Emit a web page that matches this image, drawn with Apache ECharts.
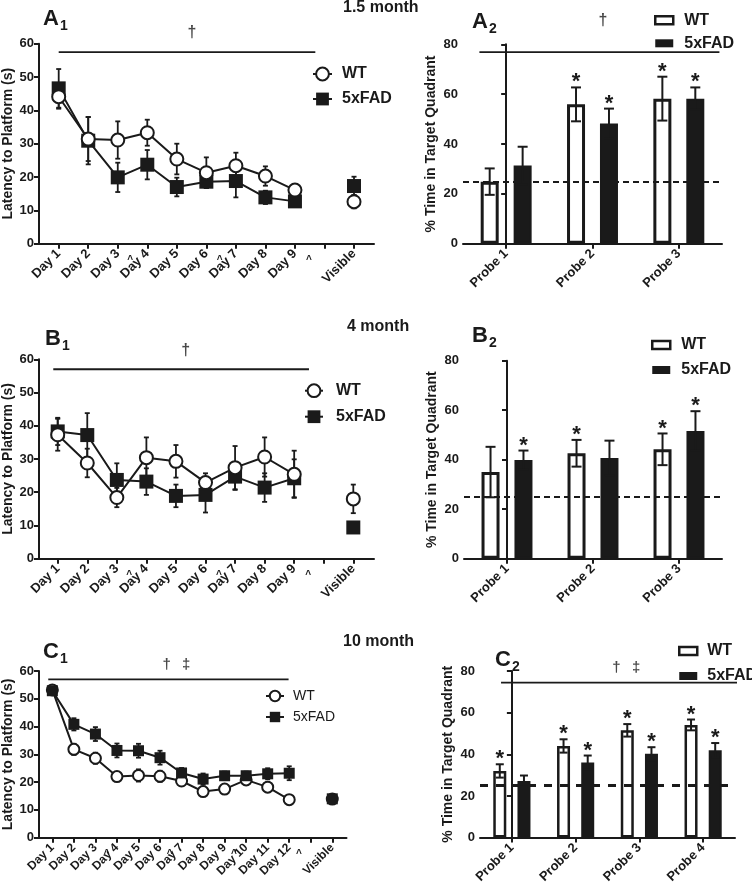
<!DOCTYPE html>
<html><head><meta charset="utf-8">
<script src="https://cdn.jsdelivr.net/npm/echarts@6/dist/echarts.min.js"></script>
<style>html,body{margin:0;padding:0;background:#fff}#c{width:752px;height:886px}</style>
</head><body><div id="c"></div>
<script>
// ---------------- DATA ----------------
const daysAB = ['Day 1','Day 2','Day 3','Day 4','Day 5','Day 6','Day 7','Day 8','Day 9','','Visible'];
const daysC = ['Day 1','Day 2','Day 3','Day 4','Day 5','Day 6','Day 7','Day 8','Day 9','Day 10','Day 11','Day 12','','Visible'];
const probes3 = ['Probe 1','Probe 2','Probe 3'];
const probes4 = ['Probe 1','Probe 2','Probe 3','Probe 4'];

// A1 (1.5 month) latency
const a1WT     = [44.1, 31.4, 31.1, 33.3, 25.4, 21.3, 23.4, 20.3, 16.1, null, 12.6];
const a1WTErr  = [3.6, 6.6, 5.6, 3.9, 4.6, 4.6, 3.9, 2.9, 0.6, null, 2.0];
const a1FAD    = [46.6, 30.9, 19.9, 23.7, 17.0, 18.6, 18.8, 13.9, 12.7, null, 17.3];
const a1FADErr = [5.8, 7.1, 4.4, 4.4, 2.8, 1.9, 4.9, 2.0, 1.0, null, 2.8];
// B1 (4 month) latency
const b1WT     = [37.3, 28.8, 18.4, 30.4, 29.3, 22.9, 27.4, 30.6, 25.4, null, 18.0];
const b1WTErr  = [4.8, 4.3, 2.9, 6.1, 4.9, 2.8, 6.5, 5.9, 7.1, null, 4.3];
const b1FAD    = [38.3, 37.2, 23.7, 23.2, 18.9, 19.2, 24.7, 21.4, 24.2, null, 9.4];
const b1FADErr = [4.1, 6.6, 5.0, 4.0, 3.4, 5.3, 4.0, 4.3, 5.7, null, 0.5];
// C1 (10 month) latency
const c1WT     = [53.2, 31.8, 28.6, 22.0, 22.4, 22.1, 20.4, 16.6, 17.5, 20.8, 18.2, 13.7, null, 13.9];
const c1WTErr  = [1.5, 2.0, 2.0, 1.5, 2.2, 2.0, 1.5, 1.0, 1.0, 1.5, 1.8, 0.8, null, 0.8];
const c1FAD    = [52.9, 40.8, 37.3, 31.4, 31.3, 28.8, 23.3, 21.1, 22.3, 22.3, 23.0, 23.2, null, 14.0];
const c1FADErr = [1.5, 2.2, 2.5, 2.5, 2.5, 2.5, 1.8, 2.0, 1.5, 1.5, 2.0, 2.5, null, 1.0];

// A2 / B2 / C2 % time in target quadrant
const a2WT = [24.9, 55.9, 58.2],  a2WTErr = [5.3, 6.8, 8.8],  a2FAD = [31.4, 48.2, 58.2], a2FADErr = [7.5, 6.0, 4.5];
const a2SigWT = [0, 1, 1], a2SigFAD = [0, 1, 1];
const b2WT = [35.0, 42.6, 44.2],  b2WTErr = [10.2, 5.4, 6.4], b2FAD = [39.9, 40.7, 51.6], b2FADErr = [3.8, 7.0, 8.0];
const b2SigWT = [0, 1, 1], b2SigFAD = [1, 0, 1];
const c2WT = [32.0, 44.0, 51.5, 54.1], c2WTErr = [3.2, 3.2, 3.0, 2.6];
const c2FAD = [27.2, 36.0, 40.2, 41.9], c2FADErr = [2.6, 3.4, 3.2, 3.5];
const c2SigWT = [1, 1, 1, 1], c2SigFAD = [0, 1, 1, 1];
const chanceLevel = 25;

// annotation brackets: [y, xFrom, xTo]; daggers: [x, symbol]
const a1Line = [57.5, 1.0, 9.69], a1Dag = [[5.51, '†']];
const b1Line = [57.0, 0.85, 9.5], b1Dag = [[5.33, '†']];
const c1Line = [57.0, 0.81, 11.97], c1Dag = [[6.31, '†'], [7.21, '‡']];
const a2Line = [76.9, -0.31, 2.47], a2Dag = [[1.12, '†']];
const c2Line = [74.4, -0.17, 3.7], c2Dag = [[1.64, '†'], [1.95, '‡']];
const caretsAB = [3.42, 6.45, 9.47];
const caretsC = [3.52, 6.45, 9.43, 12.45];

// ---------------- BUILD ----------------
const INK = '#1a1a1a';
const FONT = '"Liberation Sans", Arial, Helvetica, sans-serif';
const grids = [], xAxes = [], yAxes = [], series = [], legends = [], titles = [];
const axLine = (w) => ({show: true, lineStyle: {color: INK, width: w || 2}});
const axTick = {show: true, length: 5, lineStyle: {color: INK, width: 2}};

function yAx(gi, max, interval, name, nameGap, nameSize) {
  return {type: 'value', gridIndex: gi, min: 0, max: max, interval: interval,
    axisLine: axLine(), axisTick: axTick, splitLine: {show: false},
    axisLabel: {color: INK, fontWeight: 'bold', fontSize: 13, margin: 5},
    name: name, nameLocation: 'middle', nameRotate: 90, nameGap: nameGap,
    nameTextStyle: {color: INK, fontWeight: 'bold', fontSize: nameSize}};
}

function errLineSeries(xi, yi, vals, errs, cap, z) {
  const data = [];
  vals.forEach((v, i) => { if (v != null) data.push([i + 1, v, errs[i]]); });
  return {type: 'custom', xAxisIndex: xi, yAxisIndex: yi, z: z, silent: true,
    encode: {x: 0, y: 1}, data: data,
    renderItem: function (params, api) {
      const x = api.value(0), v = api.value(1), e = api.value(2);
      const t = api.coord([x, v + e]), b = api.coord([x, v - e]);
      const st = {stroke: INK, lineWidth: 1.8};
      return {type: 'group', children: [
        {type: 'line', shape: {x1: t[0], y1: t[1], x2: b[0], y2: b[1]}, style: st},
        {type: 'line', shape: {x1: t[0] - cap, y1: t[1], x2: t[0] + cap, y2: t[1]}, style: st},
        {type: 'line', shape: {x1: b[0] - cap, y1: b[1], x2: b[0] + cap, y2: b[1]}, style: st}
      ]};
    }};
}

function errBarSeries(xi, yi, vals, errs, sig, offset, cap, z) {
  return {type: 'custom', xAxisIndex: xi, yAxisIndex: yi, z: z, silent: true,
    encode: {x: 0, y: 1},
    data: vals.map((v, i) => [i, v, errs[i], sig[i]]),
    renderItem: function (params, api) {
      const i = api.value(0), v = api.value(1), e = api.value(2), s = api.value(3);
      const c = api.coord([i, v]);
      const x = c[0] + offset;
      const top = api.coord([i, v + e])[1], bot = api.coord([i, v - e])[1];
      const st = {stroke: INK, lineWidth: 2};
      const ch = [
        {type: 'line', shape: {x1: x, y1: top, x2: x, y2: bot}, style: st},
        {type: 'line', shape: {x1: x - cap, y1: top, x2: x + cap, y2: top}, style: st},
        {type: 'line', shape: {x1: x - cap, y1: bot, x2: x + cap, y2: bot}, style: st}
      ];
      if (s) ch.push({type: 'text', x: x, y: top - 5, style: {text: '*', fill: INK,
        font: 'bold 22px ' + FONT, align: 'center', verticalAlign: 'middle'}});
      return {type: 'group', children: ch};
    }};
}

function panelTitle(letter, sub, left, top) {
  titles.push({left: left, top: top, padding: 0,
    text: '{m|' + letter + '}{s|' + sub + '}',
    textStyle: {rich: {
      m: {fontSize: 22, fontWeight: 'bold', color: INK, lineHeight: 22, verticalAlign: 'top', fontFamily: FONT},
      s: {fontSize: 14, fontWeight: 'bold', color: INK, lineHeight: 14, verticalAlign: 'top', padding: [11, 0, 0, 1], fontFamily: FONT}
    }}});
}

function addLinePanel(p) {
  const gi = grids.length;
  grids.push(p.grid);
  const xi = xAxes.length;
  const ticks = p.labels.map((_, i) => i + 1);
  const labVals = ticks.filter(v => p.labels[v - 1] !== '');
  xAxes.push({type: 'value', gridIndex: gi, min: p.xMin, max: p.xMax, position: 'bottom',
    axisLine: axLine(), axisTick: Object.assign({}, axTick, {customValues: ticks}),
    splitLine: {show: false},
    axisLabel: {color: INK, fontWeight: 'bold', fontSize: p.labelSize, rotate: 45, margin: 8,
      customValues: labVals, formatter: v => p.labels[Math.round(v) - 1]}});
  xAxes.push({type: 'value', gridIndex: gi, min: p.xMin, max: p.xMax, position: 'bottom',
    axisLine: {show: false}, axisTick: {show: false}, splitLine: {show: false},
    axisLabel: {color: INK, fontWeight: 'bold', fontSize: 10, margin: 12,
      customValues: p.carets, formatter: () => '^'}});
  const yi = yAxes.length;
  yAxes.push(yAx(gi, 60, 10, 'Latency to Platform (s)', 23, 14));
  const toXY = vals => vals.map((v, i) => [i + 1, v]);
  const nW = 'WT|' + gi, nF = '5xFAD|' + gi;
  series.push(errLineSeries(xi, yi, p.fad, p.fadErr, p.cap, 2));
  series.push(errLineSeries(xi, yi, p.wt, p.wtErr, p.cap, 2));
  series.push({type: 'line', name: nF, xAxisIndex: xi, yAxisIndex: yi, z: p.fadOnTop ? 4 : 3, silent: true,
    data: toXY(p.fad), connectNulls: false, symbol: 'rect', symbolSize: p.sq, showAllSymbol: true,
    itemStyle: {color: INK, borderColor: INK, borderWidth: 0}, lineStyle: {color: INK, width: 2}});
  series.push({type: 'line', name: nW, xAxisIndex: xi, yAxisIndex: yi, z: p.fadOnTop ? 3 : 4, silent: true,
    data: toXY(p.wt), connectNulls: false, symbol: 'circle', symbolSize: p.circ, showAllSymbol: true,
    itemStyle: {color: '#fff', borderColor: INK, borderWidth: 2}, lineStyle: {color: INK, width: 2}});
  // annotation bracket
  series.push({type: 'line', xAxisIndex: xi, yAxisIndex: yi, z: 2, silent: true, clip: false,
    symbol: 'none', lineStyle: {color: INK, width: 1.8},
    data: [[p.line[1], p.line[0]], [p.line[2], p.line[0]]]});
  series.push({type: 'scatter', xAxisIndex: xi, yAxisIndex: yi, z: 2, silent: true, clip: false,
    symbolSize: 0,
    label: {show: true, position: 'top', distance: p.dagDist, color: INK, fontSize: p.dagSize, fontWeight: 'bold'},
    data: p.dag.map(d => ({value: [d[0], p.line[0]], label: {formatter: d[1]}}))});
  legends.push(Object.assign({orient: 'vertical', padding: 0, selectedMode: false,
    data: [nW, nF], formatter: n => n.split('|')[0]}, p.legend));
}

function addBarPanel(p) {
  const gi = grids.length;
  grids.push(p.grid);
  const xi = xAxes.length;
  const n = p.labels.length;
  xAxes.push({type: 'category', gridIndex: gi, data: p.labels, position: 'bottom',
    axisLine: axLine(), axisTick: Object.assign({}, axTick, {alignWithLabel: true}),
    axisLabel: {color: INK, fontWeight: 'bold', fontSize: 13, rotate: 45, margin: 8}});
  xAxes.push({type: 'value', gridIndex: gi, min: -0.5, max: n - 0.5, show: false});
  const yi = yAxes.length;
  yAxes.push(yAx(gi, 80, 20, '% Time in Target Quadrant', p.nameGap, 14));
  const nW = 'WT|' + gi, nF = '5xFAD|' + gi;
  series.push({type: 'bar', name: nW, xAxisIndex: xi, yAxisIndex: yi, z: 2, silent: true,
    barWidth: p.bw, barGap: Math.round(p.gap * 100) + '%', data: p.wt,
    itemStyle: {color: '#fff', borderColor: INK, borderWidth: p.wtBorder}});
  series.push({type: 'bar', name: nF, xAxisIndex: xi, yAxisIndex: yi, z: 2, silent: true,
    barWidth: p.bw, barGap: Math.round(p.gap * 100) + '%', data: p.fad,
    itemStyle: {color: INK, borderColor: INK, borderWidth: 2}});
  const off = p.bw * (1 + p.gap) / 2;
  series.push(errBarSeries(xi, yi, p.wt, p.wtErr, p.sigWT, -off, p.cap, 3));
  series.push(errBarSeries(xi, yi, p.fad, p.fadErr, p.sigFAD, off, p.cap, 3));
  // chance line + annotation bracket on hidden value axis
  series.push({type: 'line', xAxisIndex: xi + 1, yAxisIndex: yi, z: 4, silent: true, clip: false,
    symbol: 'none', lineStyle: {color: INK, width: 1.8},
    data: p.line ? [[p.line[1], p.line[0]], [p.line[2], p.line[0]]] : [],
    markLine: {silent: true, symbol: 'none', label: {show: false},
      lineStyle: {color: INK, type: p.dash, width: p.dashW}, data: [{yAxis: chanceLevel}]}});
  if (p.line) {
    series.push({type: 'scatter', xAxisIndex: xi + 1, yAxisIndex: yi, z: 4, silent: true, clip: false,
      symbolSize: 0,
      label: {show: true, position: 'top', distance: p.dagDist, color: INK, fontSize: p.dagSize, fontWeight: 'bold'},
      data: p.dag.map(d => ({value: [d[0], p.line[0]], label: {formatter: d[1]}}))});
  }
  legends.push(Object.assign({orient: 'vertical', padding: 0, selectedMode: false, icon: 'rect',
    itemWidth: 18, itemHeight: 8,
    data: [{name: nW, itemStyle: {color: '#fff', borderColor: INK, borderWidth: 2.5}},
           {name: nF, itemStyle: {color: INK, borderColor: INK, borderWidth: 0}}],
    formatter: n => n.split('|')[0]}, p.legend));
}

const legText = (size, weight, pad) => ({color: INK, fontSize: size, fontWeight: weight, lineHeight: size, padding: [0, 0, 0, pad]});

addLinePanel({grid: {left: 39, top: 43.7, width: 335, height: 200},
  labels: daysAB, xMin: 0.333, xMax: 11.677, labelSize: 13, carets: caretsAB,
  wt: a1WT, wtErr: a1WTErr, fad: a1FAD, fadErr: a1FADErr, cap: 2.5, sq: 14, circ: 13, fadOnTop: false,
  line: a1Line, dag: a1Dag, dagDist: 11, dagSize: 16,
  legend: {left: 312, top: 66, itemWidth: 19, itemHeight: 16, itemGap: 9, textStyle: legText(16, 'bold', 5)}});
addBarPanel({grid: {left: 463, top: 44.3, width: 259, height: 199.4},
  labels: probes3, wt: a2WT, wtErr: a2WTErr, fad: a2FAD, fadErr: a2FADErr, sigWT: a2SigWT, sigFAD: a2SigFAD,
  bw: 18, gap: 0.83, wtBorder: 3, cap: 5, dash: [6, 4], dashW: 2, nameGap: 25,
  line: a2Line, dag: a2Dag, dagDist: 23, dagSize: 16,
  legend: {left: 654, top: 12.3, itemGap: 7, textStyle: legText(16, 'bold', 6)}});
addLinePanel({grid: {left: 39, top: 359.3, width: 335, height: 199.4},
  labels: daysAB, xMin: 0.367, xMax: 11.70, labelSize: 13, carets: caretsAB,
  wt: b1WT, wtErr: b1WTErr, fad: b1FAD, fadErr: b1FADErr, cap: 2.5, sq: 14, circ: 13, fadOnTop: false,
  line: b1Line, dag: b1Dag, dagDist: 11, dagSize: 16,
  legend: {left: 304, top: 382.7, itemWidth: 18, itemHeight: 16, itemGap: 10, textStyle: legText(16, 'bold', 8)}});
addBarPanel({grid: {left: 464, top: 360.7, width: 258, height: 198},
  labels: probes3, wt: b2WT, wtErr: b2WTErr, fad: b2FAD, fadErr: b2FADErr, sigWT: b2SigWT, sigFAD: b2SigFAD,
  bw: 18, gap: 0.83, wtBorder: 3, cap: 5, dash: [6, 4], dashW: 2, nameGap: 25,
  line: null, dag: [],
  legend: {left: 651, top: 337, itemGap: 9, textStyle: legText(16, 'bold', 6)}});
addLinePanel({grid: {left: 39, top: 671, width: 307.5, height: 166.7},
  labels: daysC, xMin: 0.38, xMax: 14.66, labelSize: 12, carets: caretsC,
  wt: c1WT, wtErr: c1WTErr, fad: c1FAD, fadErr: c1FADErr, cap: 2.5, sq: 11, circ: 11, fadOnTop: true,
  line: c1Line, dag: c1Dag, dagDist: 7, dagSize: 15,
  legend: {left: 265, top: 689, itemWidth: 18, itemHeight: 13, itemGap: 7, textStyle: legText(14, 'normal', 4)}});
addBarPanel({grid: {left: 480, top: 671, width: 255, height: 166.7},
  labels: probes4, wt: c2WT, wtErr: c2WTErr, fad: c2FAD, fadErr: c2FADErr, sigWT: c2SigWT, sigFAD: c2SigFAD,
  bw: 13, gap: 0.86, wtBorder: 2.5, cap: 4, dash: [8, 8], dashW: 3, nameGap: 25,
  line: c2Line, dag: c2Dag, dagDist: 7, dagSize: 15,
  legend: {left: 678, top: 643, itemGap: 9, textStyle: legText(16, 'bold', 5)}});

// titles
const monthStyle = {fontSize: 16, fontWeight: 'bold', color: INK};
titles.push({left: 343, top: 0, padding: 0, text: '1.5 month', textStyle: monthStyle});
titles.push({left: 347, top: 319, padding: 0, text: '4 month', textStyle: monthStyle});
titles.push({left: 343, top: 634, padding: 0, text: '10 month', textStyle: monthStyle});
panelTitle('A', '1', 43, 8);
panelTitle('A', '2', 472, 11);
panelTitle('B', '1', 45, 328);
panelTitle('B', '2', 472, 325);
panelTitle('C', '1', 43, 641);
panelTitle('C', '2', 495, 649);

const chart = echarts.init(document.getElementById('c'), null, {renderer: 'canvas'});
chart.setOption({
  animation: false,
  backgroundColor: '#fff',
  textStyle: {fontFamily: FONT},
  title: titles, grid: grids, xAxis: xAxes, yAxis: yAxes, legend: legends, series: series
});
</script></body></html>
